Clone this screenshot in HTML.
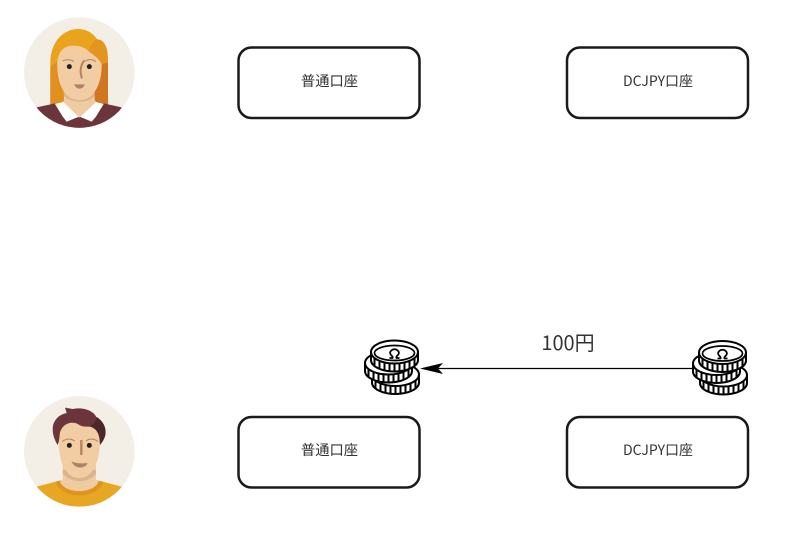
<!DOCTYPE html>
<html><head><meta charset="utf-8">
<style>html,body{margin:0;padding:0;background:#fff}svg{display:block}text{font-family:"Noto Sans CJK JP","Liberation Sans",sans-serif;fill:#333}</style>
</head><body>
<svg width="788" height="551" viewBox="0 0 788 551" xmlns="http://www.w3.org/2000/svg">
<defs>
<clipPath id="c1"><circle cx="208" cy="202.500" r="166"/></clipPath>
<clipPath id="c2"><circle cx="208" cy="199" r="166"/></clipPath>
<g id="coin">
 <path d="M-23.500 0 v8 a23.500 11.500 0 0 0 47 0 v-8 z" fill="#fff" stroke="#000" stroke-width="2"/>
 <path d="M-20 6 v8 M-15 8.900 v8 M-10 10.400 v8 M-5 11.200 v8 M0 11.500 v8 M5 11.200 v8 M10 10.400 v8 M15 8.900 v8 M20 6 v8" stroke="#000" stroke-width="2" fill="none"/>
 <ellipse cx="0" cy="0" rx="23.500" ry="11.500" fill="#fff" stroke="#000" stroke-width="2"/>
</g>
<g id="stack">
 <use href="#coin" x="1" y="22.500"/>
 <use href="#coin" x="-6" y="11"/>
 <use href="#coin" x="0" y="0"/>
 <ellipse cx="0" cy="1" rx="20" ry="7.500" fill="#fff" stroke="#000" stroke-width="1.700"/>
 <path d="M-5 6 h3 c1.500 -2 -4 -3 -2 -6.500 c2 -3 6 -3 8 0 c2 3.500 -3.500 4.500 -2 6.500 h3" fill="none" stroke="#000" stroke-width="1.800"/>
</g>
</defs>

<!-- Woman -->
<g transform="translate(10,5) scale(.33333)">
 <circle cx="208" cy="202.500" r="166" fill="#f4efe6"/>
 <g clip-path="url(#c1)">
  <path d="M121 298 V175 C121 110 160 72 205 72 C235 72 252 90 262 103 C285 105 294 130 294 165 V298 Z" fill="#e9a31d"/>
  <path d="M252 298 V200 L275 175 L294 172 V298 Z" fill="#d0761f"/>
  <path d="M121 185 L145 168 L165 298 H121 Z" fill="#e09020"/>
  <path d="M80 307 L135 295 L170 350 L208 335 L245 350 L281 295 L335 307 L300 380 H115 Z" fill="#6b353b"/>
  <path d="M162 250 H254 V285 L262 296 L208 338 L154 296 L162 285 Z" fill="#efcba2"/>
  <path d="M162 262 H254 V272 C240 296 180 296 162 272 Z" fill="#d9b48d"/>
  <path d="M135 297 L160 291 L205 335 L170 350 L158 335 Z" fill="#fff"/>
  <path d="M281 297 L258 291 L212 335 L245 350 L258 335 Z" fill="#fff"/>
  <path d="M142 172 C145 140 160 122 190 122 C208 122 225 128 235 138 C250 150 270 160 275 178 C276 215 266 255 238 277 C222 288 195 288 178 277 C150 255 141 215 142 172 Z" fill="#f2cda3"/>
  <path d="M235 138 C242 118 252 104 264 103 C285 106 294 130 294 172 L275 178 C268 160 250 150 235 138 Z" fill="#e29620"/>
 </g>
 <circle cx="178" cy="185" r="7.500" fill="#222"/>
 <circle cx="238" cy="185" r="7.500" fill="#222"/>
 <path d="M158 168 C168 162 182 163 192 170 M226 168 C236 162 248 163 258 170" fill="none" stroke="#b98a68" stroke-width="3.500"/>
 <path d="M223 166 C212 180 208 200 216 220" fill="none" stroke="#b5815e" stroke-width="6"/>
 <path d="M192 238 H224 C220 254 200 256 192 238 Z" fill="#b08069"/>
</g>

<!-- Man -->
<g transform="translate(10,385) scale(.33333)">
 <circle cx="208" cy="199" r="166" fill="#f4efe6"/>
 <g clip-path="url(#c2)">
  <path d="M80 305 L145 288 H270 L335 305 L300 380 H115 Z" fill="#e8a722"/>
  <path d="M136 291 C155 345 262 345 280 291 L266 287 H148 Z" fill="#df941d"/>
  <path d="M158 240 H258 V284 L266 290 C250 328 165 328 150 290 L158 284 Z" fill="#efcba2"/>
  <path d="M158 255 H258 V266 C235 296 185 296 158 266 Z" fill="#d9b48d"/>
  <path d="M145 150 C145 125 170 112 205 112 C250 112 270 130 270 160 C270 210 262 245 235 270 C220 282 195 282 180 270 C152 245 146 210 145 150 Z" fill="#f2cda3"/>
  <path d="M143 180 C130 160 125 135 130 118 C136 100 150 88 170 84 L165 68 L188 72 C220 66 250 76 260 98 C280 108 290 130 286 150 C282 165 276 172 270 180 C270 150 262 128 240 125 C225 125 215 125 205 118 C190 108 155 112 149 148 C148 165 146 172 143 180 Z" fill="#6b353b"/>
  <path d="M260 96 C280 108 290 130 286 150 C282 165 276 172 270 180 C270 150 262 130 238 124 C250 118 258 110 260 96 Z" fill="#4b272b"/>
 </g>
 <circle cx="178" cy="181" r="7.500" fill="#222"/>
 <circle cx="238" cy="181" r="7.500" fill="#222"/>
 <path d="M157 170 C168 160 182 160 194 168 M228 168 C238 160 252 160 264 170" fill="none" stroke="#b98a68" stroke-width="3.500"/>
 <path d="M214 165 V210" fill="none" stroke="#b5815e" stroke-width="7"/>
 <path d="M184 229 C200 236 220 236 233 234 C226 252 196 254 184 229 Z" fill="#b08069"/>
</g>

<!-- Boxes -->
<g fill="#fff" stroke="#1a1a1a" stroke-width="2.500">
 <rect x="238.500" y="47.500" width="181" height="70.500" rx="13"/>
 <rect x="567" y="47.500" width="181" height="70.500" rx="13"/>
 <rect x="238.500" y="417" width="181" height="70.500" rx="13"/>
 <rect x="567" y="417" width="181" height="70.500" rx="13"/>
</g>
<g font-size="14" text-anchor="middle">
 <text x="329.500" y="86" font-size="14.300">普通口座</text>
 <text x="658" y="86">DCJPY口座</text>
 <text x="329.500" y="455" font-size="14.300">普通口座</text>
 <text x="658" y="455">DCJPY口座</text>
</g>
<text x="568" y="350" font-size="20" text-anchor="middle">100円</text>

<!-- Arrow -->
<line x1="692" y1="368.500" x2="436" y2="368.500" stroke="#000" stroke-width="1.200"/>
<path d="M420 368.500 L443 363 L438 368.500 L443 374 Z" fill="#000"/>

<use href="#stack" x="394.500" y="352"/>
<use href="#stack" x="722.500" y="352.500"/>
</svg>
</body></html>
